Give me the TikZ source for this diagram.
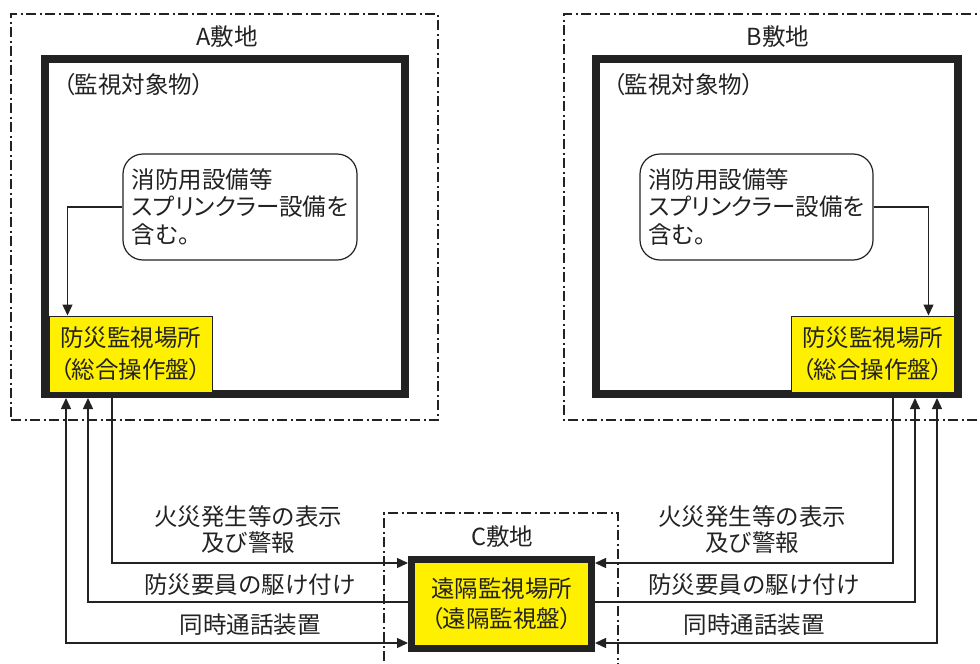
\documentclass[tikz,border=0pt]{standalone}
\usepackage{fontspec}
\setmainfont{Noto Sans CJK JP}
\newfontfamily\pfont{Noto Sans CJK JP}[RawFeature=+palt]
\usetikzlibrary{arrows.meta,calc}
\definecolor{boxyellow}{HTML}{FFF000}
\definecolor{ink}{HTML}{222222}
\begin{document}
\begin{tikzpicture}[x=1pt,y=-1pt,
  every node/.style={font=\fontsize{23.5}{27.5}\selectfont, text=ink, inner sep=0pt},
  sitebox/.style={draw=ink, line width=1.4pt, dash pattern=on 10pt off 3.5pt on 2pt off 3.5pt},
  framebox/.style={draw=ink, line width=8pt, fill=white},
  roundbox/.style={draw=ink, line width=1.2pt, rounded corners=20pt, fill=white, align=left, font=\pfont\fontsize{23.5}{27.5}\selectfont},
  ybox/.style={draw=ink, line width=1pt, fill=boxyellow, align=center, font=\pfont\fontsize{23.5}{32}\selectfont},
  cbox/.style={draw=ink, line width=7pt, fill=boxyellow, align=center, font=\pfont\fontsize{23.5}{30}\selectfont},
  lbl/.style={align=center, font=\fontsize{23.5}{26}\selectfont},
  conn/.style={draw=ink, line width=1.4pt},
  arr/.style={conn, -{Triangle[length=11pt,width=10pt]}},
  arrboth/.style={conn, {Triangle[length=11pt,width=10pt]}-{Triangle[length=11pt,width=10pt]}},
]
\useasboundingbox (0,0) rectangle (980,664);

% site outlines
\node[sitebox, minimum width=427pt, minimum height=406pt] (sA) at (224.5,217) {};
\draw[sitebox] (990,14) -- (564,14) -- (564,420) -- (990,420);
\draw[sitebox] (384,680) -- (384,513) -- (618,513) -- (618,680);

\node (tA) at (227,37) {A敷地};
\node (tB) at (778,37) {B敷地};
\node (tC) at (502,537) {C敷地};

% monitored buildings
\node[framebox, minimum width=360pt, minimum height=335pt] (fA) at (225,226.5) {};
\node[framebox, minimum width=362pt, minimum height=335pt] (fB) at (777,226.5) {};

\node[anchor=west, font=\pfont\fontsize{23.5}{27.5}\selectfont] (oA) at (63,85) {（監視対象物）};
\node[anchor=west, font=\pfont\fontsize{23.5}{27.5}\selectfont] (oB) at (613,85) {（監視対象物）};

\node[roundbox, minimum width=234pt, minimum height=106pt] (rA) at (240,207)
  {消防用設備等\\スプリンクラー設備を\\含む。};
\node[roundbox, minimum width=233pt, minimum height=106pt] (rB) at (756.5,207)
  {消防用設備等\\スプリンクラー設備を\\含む。};

\node[ybox, minimum width=163pt, minimum height=76pt] (yA) at (130.5,354)
  {防災監視場所\\（総合操作盤）};
\node[ybox, minimum width=163pt, minimum height=76pt] (yB) at (872.5,354)
  {防災監視場所\\（総合操作盤）};

% remote monitoring station
\node[cbox, minimum width=180pt, minimum height=89pt] (cC) at (501.5,604)
  {遠隔監視場所\\（遠隔監視盤）};

% equipment -> station inside sites
\coordinate (kA) at ($(yA.north west)+(19,0)$);
\coordinate (kB) at ($(yB.north east)+(-26,0)$);
\draw[arr] (rA.west) -| (kA);
\draw[arr] (rB.east) -| (kB);

% link points
\coordinate (a1) at (66,0);
\coordinate (a2) at (88,0);
\coordinate (a3) at (112,0);
\coordinate (b1) at (893,0);
\coordinate (b2) at (915,0);
\coordinate (b3) at (937,0);
\coordinate (cW1) at ($(cC.west)+(0,-41)$);
\coordinate (cW2) at ($(cC.west)+(0,-2)$);
\coordinate (cW3) at ($(cC.west)+(0,39)$);
\coordinate (cE1) at ($(cC.east)+(0,-41)$);
\coordinate (cE2) at ($(cC.east)+(0,-2)$);
\coordinate (cE3) at ($(cC.east)+(0,39)$);

\draw[arr] (a3 |- fA.south) |- (cW1);
\draw[arr] (cW2) -| (a2 |- fA.south);
\draw[arrboth] (a1 |- fA.south) |- (cW3);

\draw[arr] (b1 |- fB.south) |- (cE1);
\draw[arr] (cE2) -| (b2 |- fB.south);
\draw[arrboth] (b3 |- fB.south) |- (cE3);

% labels
\node[lbl] (lA1) at (248,530) {火災発生等の表示\\及び警報};
\node[lbl] (lA2) at (250,585) {防災要員の駆け付け};
\node[lbl] (lA3) at (250,625) {同時通話装置};
\node[lbl] (lB1) at (752,530) {火災発生等の表示\\及び警報};
\node[lbl] (lB2) at (754,585) {防災要員の駆け付け};
\node[lbl] (lB3) at (754,625) {同時通話装置};
\end{tikzpicture}
\end{document}
